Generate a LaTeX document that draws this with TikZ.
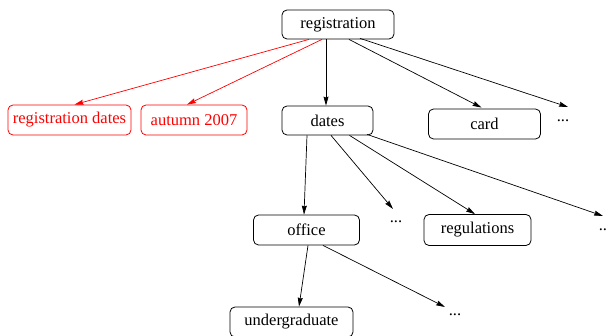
\documentclass[tikz,border=0pt]{standalone}
\usepackage{fontspec}
\setmainfont{Liberation Serif}
\usetikzlibrary{arrows.meta}
\begin{document}
\begin{tikzpicture}[x=1pt,y=-1pt,
  box/.style={draw, rounded corners=5pt, minimum height=30pt, inner sep=0pt,
    line width=0.8pt, font=\fontsize{16.5}{18}\selectfont},
  redbox/.style={box, draw=red, text=red},
  dots/.style={anchor=base, inner sep=0pt, font=\fontsize{16.5}{18}\selectfont},
  link/.style={line width=0.7pt, -{Stealth[length=9pt,width=5pt,inset=1pt]}},
  redlink/.style={link, draw=red, -{Stealth[length=9pt,width=5pt,inset=1pt,red]}}]
\useasboundingbox (0,0) rectangle (608,336);
\node[box, minimum width=112pt, minimum height=29pt] (reg) at (338,24.5) {registration};
\node[redbox, minimum width=123pt] (rd) at (69.5,120) {registration dates};
\node[redbox, minimum width=106pt] (au) at (194,120) {autumn 2007};
\node[box, minimum width=91pt, minimum height=29pt] (dates) at (327.5,120.5) {dates};
\node[box, minimum width=112pt] (card) at (484.5,124) {card};
\node[dots] (e1) at (563,122) {...};
\node[box, minimum width=106pt] (office) at (306.5,230) {office};
\node[dots] (e2) at (396,223) {...};
\node[box, minimum width=107pt, minimum height=31pt] (regul) at (477.5,230) {regulations};
\node[dots] (e3) at (605,231) {...};
\node[box, minimum width=123pt] (under) at (291.5,322) {undergraduate};
\node[dots] (e4) at (455,316) {...};

\draw[redlink] ([xshift=-29pt]reg.south) -- ([xshift=5pt]rd.north);
\draw[redlink] ([xshift=-16pt]reg.south) -- ([xshift=-7pt]au.north);
\draw[link] ([xshift=-12pt]reg.south) -- ([xshift=-1.5pt]dates.north);
\draw[link] ([xshift=11pt]reg.south) -- ([xshift=-3pt,yshift=1pt]card.north);
\draw[link] ([xshift=22pt,yshift=1pt]reg.south) -- ([xshift=5pt,yshift=15pt]e1.base);

\draw[link] ([xshift=-20.5pt]dates.south) -- ([xshift=-2.5pt]office.north);
\draw[link] ([xshift=3.5pt]dates.south) -- ([xshift=-3pt,yshift=14pt]e2.base);
\draw[link] ([xshift=22pt]dates.south) -- ([xshift=-2.5pt]regul.north);
\draw[link] ([xshift=39.5pt,yshift=1pt]dates.south) -- ([xshift=-2pt,yshift=15pt]e3.base);

\draw[link] ([xshift=1.5pt]office.south) -- ([xshift=7.5pt]under.north);
\draw[link] ([xshift=16.5pt]office.south) -- ([xshift=-10pt,yshift=9pt]e4.base);
\end{tikzpicture}
\end{document}
